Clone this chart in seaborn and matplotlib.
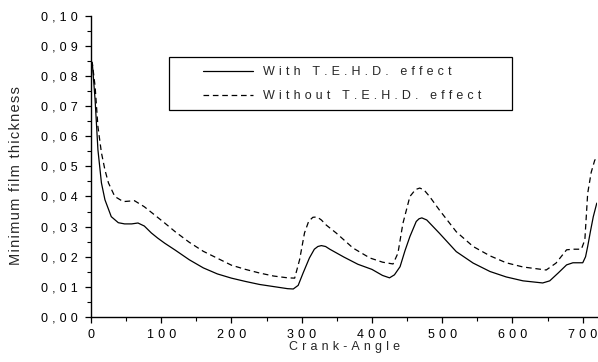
import matplotlib
matplotlib.use("Agg")
import matplotlib.pyplot as plt
import matplotlib.ticker as mticker
from matplotlib.patches import Rectangle
import seaborn as sns

# Curves (crank angle in degrees, min film thickness)
angle_with = [0, 2, 6, 10, 15, 20, 29, 39, 48, 58, 67, 76, 86, 95, 105,
              120, 140, 160, 180, 200, 220, 240, 260, 280, 288, 295, 302,
              311, 318, 323, 328, 334, 340, 360, 380, 400, 415, 425, 432,
              440, 447, 454, 463, 467, 471, 478, 496, 520, 544, 568, 591,
              615, 643, 653, 665, 677, 686, 700, 704, 707, 711, 715, 720]
film_with = [0.085, 0.0843, 0.072, 0.0555, 0.0445, 0.0389, 0.0333, 0.0313,
             0.0309, 0.0309, 0.0312, 0.0302, 0.0279, 0.0262, 0.0245,
             0.0222, 0.019, 0.0163, 0.0143, 0.0129, 0.0118, 0.0108, 0.0101,
             0.0094, 0.0093, 0.0105, 0.0146, 0.0196, 0.0225, 0.0234, 0.0237,
             0.0234, 0.0225, 0.0199, 0.0175, 0.0158, 0.0138, 0.0130, 0.0140,
             0.0167, 0.022, 0.0267, 0.0317, 0.0326, 0.0329, 0.0322, 0.0278,
             0.0217, 0.0179, 0.0151, 0.0133, 0.0120, 0.0113, 0.0120, 0.0146,
             0.0173, 0.0180, 0.0180, 0.0200, 0.0234, 0.0285, 0.0333, 0.0378]

angle_without = [0, 2, 6, 10, 15, 20, 25, 34, 46, 62, 76, 90, 105, 120,
                 140, 160, 180, 200, 220, 240, 260, 280, 290, 297, 304, 310,
                 316, 322, 328, 335, 349, 373, 397, 415, 430, 437, 444, 454,
                 462, 468, 474, 482, 496, 520, 544, 568, 591, 615, 648, 662,
                 677, 686, 698, 703, 707, 712, 717, 720]
film_without = [0.085, 0.0843, 0.0765, 0.0632, 0.0545, 0.0488, 0.0445, 0.040,
                0.0383, 0.0386, 0.0366, 0.034, 0.0312, 0.0283, 0.0248, 0.0218,
                0.0195, 0.0172, 0.0158, 0.0146, 0.0136, 0.0130, 0.0129, 0.019,
                0.0279, 0.0318, 0.0331, 0.0332, 0.0322, 0.0305, 0.0279, 0.0229,
                0.0196, 0.0182, 0.0176, 0.0212, 0.031, 0.040, 0.0423, 0.0428,
                0.0422, 0.0400, 0.0355, 0.0283, 0.0234, 0.0203, 0.018, 0.0166,
                0.0156, 0.0179, 0.0223, 0.0225, 0.0225, 0.0256, 0.041, 0.048,
                0.052, 0.053]

label_with = "With T.E.H.D. effect"
label_without = "Without T.E.H.D. effect"
x_label = "Crank-Angle"
y_label = "Minimum film thickness"

WIDE = "\u2004"   # the reference text is letter-spaced
HAIR = "\u200a"


def spaced(s, gap=WIDE):
    return gap.join(s)


sns.set_style("ticks")
plt.rcParams["font.family"] = ["Liberation Sans", "DejaVu Sans"]
FS = 9

fig = plt.figure(figsize=(5.98, 3.62), dpi=100)
ax = fig.add_axes([0.152, 0.1243, 0.846, 0.8323])

sns.lineplot(x=angle_with, y=film_with, ax=ax, color="black", lw=0.9,
             sort=False, estimator=None, label=spaced(label_with))
sns.lineplot(x=angle_without, y=film_without, ax=ax, color="black", lw=0.9,
             sort=False, estimator=None, label=spaced(label_without))
ax.lines[1].set_dashes([4.5, 3])

ax.set_xlim(0, 720)
ax.set_ylim(0, 0.10)
ax.xaxis.set_major_locator(mticker.MultipleLocator(100))
ax.xaxis.set_minor_locator(mticker.MultipleLocator(50))
ax.yaxis.set_major_locator(mticker.MultipleLocator(0.01))
ax.yaxis.set_minor_locator(mticker.MultipleLocator(0.005))
ax.xaxis.set_major_formatter(mticker.FuncFormatter(lambda v, p: spaced(f"{v:.0f}")))
ax.yaxis.set_major_formatter(
    mticker.FuncFormatter(lambda v, p: spaced(f"{v:.2f}".replace(".", ","))))

for s in ["top", "right"]:
    ax.spines[s].set_visible(False)
for s in ["left", "bottom"]:
    ax.spines[s].set_linewidth(1.0)
    ax.spines[s].set_color("black")
ax.tick_params(which="major", direction="out", length=4.3, width=0.9,
               colors="black", labelsize=FS)
ax.tick_params(which="minor", direction="out", length=2.7, width=0.8,
               colors="black")
ax.tick_params(axis="x", which="major", pad=4)
ax.tick_params(axis="y", which="major", pad=5)

ax.set_xlabel(spaced(x_label), fontsize=FS)
ax.set_ylabel(spaced(y_label, HAIR), fontsize=10.5)
ax.xaxis.set_label_coords(0.501, -0.08)
ax.yaxis.set_label_coords(-0.134, 0.47)

leg = ax.legend(loc="upper left", bbox_to_anchor=(203 / 598, 1 - 66 / 362),
                bbox_transform=fig.transFigure, frameon=False, fontsize=FS,
                handlelength=4.0, handletextpad=0.8, labelspacing=0.95,
                borderaxespad=0, borderpad=0)
fig.patches.append(Rectangle((169 / 598, 1 - 110 / 362), 343 / 598, 53 / 362,
                             transform=fig.transFigure, fill=False,
                             edgecolor="black", lw=0.9))

fig.savefig("out.png", dpi=100)
